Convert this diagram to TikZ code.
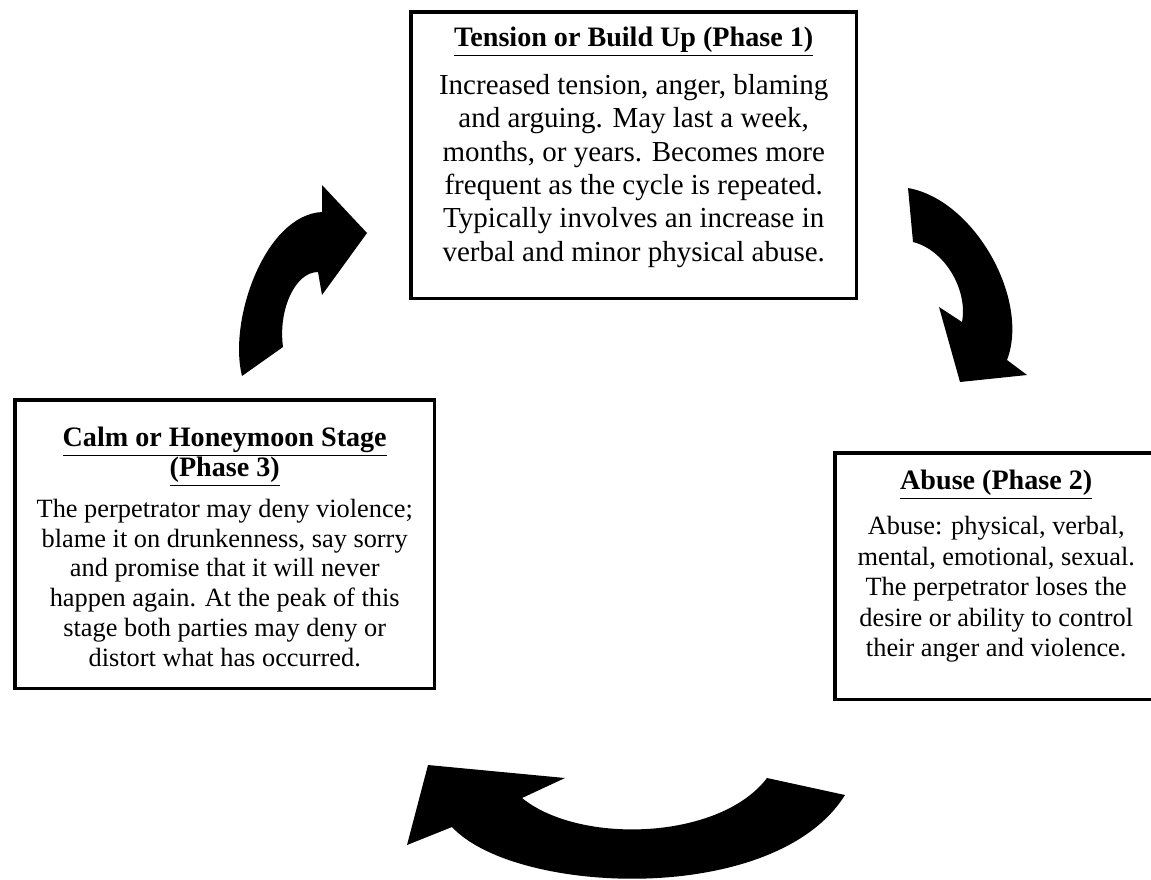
\documentclass[tikz,border=0pt]{standalone}
\usepackage{fontspec}
\setmainfont{Liberation Serif}
\usetikzlibrary{positioning}
\tikzset{
    phasebox/.style={rectangle, draw, line width=2pt, fill=white, anchor=north west, inner sep=0pt},
    phasetext/.style={align=center, inner sep=0pt, font=\fontsize{15}{17}\selectfont},
    cyclearrow/.style={fill=black, draw=none},
}
\newcommand{\phasetitle}[1]{{\fontsize{16}{18}\selectfont\underline{\textbf{#1}}}}

\begin{document}
\begin{tikzpicture}[x=0.02cm, y=-0.02cm]
\useasboundingbox (0,0) rectangle (1151,879);

% Phase boxes
\node[phasebox, minimum width=8.92cm, minimum height=5.74cm] (tensionbox) at (409,10) {};
\node[phasebox, minimum width=8.4cm, minimum height=5.78cm] (calmbox) at (13,398) {};
\node[phasebox, minimum width=6.46cm, minimum height=4.94cm] (abusebox) at (833,451) {};

% Phase texts
\node[phasetext, font=\fontsize{16.5}{19}\selectfont, below=9.7pt of tensionbox.north] (tension) {%
    \phasetitle{Tension or Build Up (Phase 1)}\\[8pt]
    Increased tension, anger, blaming\\
    and arguing. May last a week,\\
    months, or years. Becomes more\\
    frequent as the cycle is repeated.\\
    Typically involves an increase in\\
    verbal and minor physical abuse.};
\node[phasetext, below=16.5pt of calmbox.north] (calm) {%
    \phasetitle{Calm or Honeymoon Stage}\\
    \phasetitle{(Phase 3)}\\[6pt]
    The perpetrator may deny violence;\\
    blame it on drunkenness, say sorry\\
    and promise that it will never\\
    happen again. At the peak of this\\
    stage both parties may deny or\\
    distort what has occurred.};
\node[phasetext, font=\fontsize{15}{17.4}\selectfont, below=10.8pt of abusebox.north] (abuse) {%
    \phasetitle{Abuse (Phase 2)}\\[8pt]
    Abuse: physical, verbal,\\
    mental, emotional, sexual.\\
    The perpetrator loses the\\
    desire or ability to control\\
    their anger and violence.};

% Cycle arrows
\fill[cyclearrow] (242,376) .. controls (228,320) and (265,215) .. (322,212)
    -- (322,185) -- (367,233) -- (322,295) -- (318,272)
    .. controls (295,272) and (278,310) .. (283,347) -- cycle;
\fill[cyclearrow] (908,188) .. controls (975,200) and (1030,300) .. (1007,360)
    -- (1027,375) -- (960,382) -- (939,307) -- (962,322)
    .. controls (968,290) and (945,250) .. (913,242) -- cycle;
\fill[cyclearrow] (845,795) .. controls (775,907) and (515,895) .. (452,827)
    -- (407,845) -- (428,765) -- (565,778) -- (522,798)
    .. controls (580,845) and (720,840) .. (767,778) -- cycle;

\end{tikzpicture}
\end{document}
